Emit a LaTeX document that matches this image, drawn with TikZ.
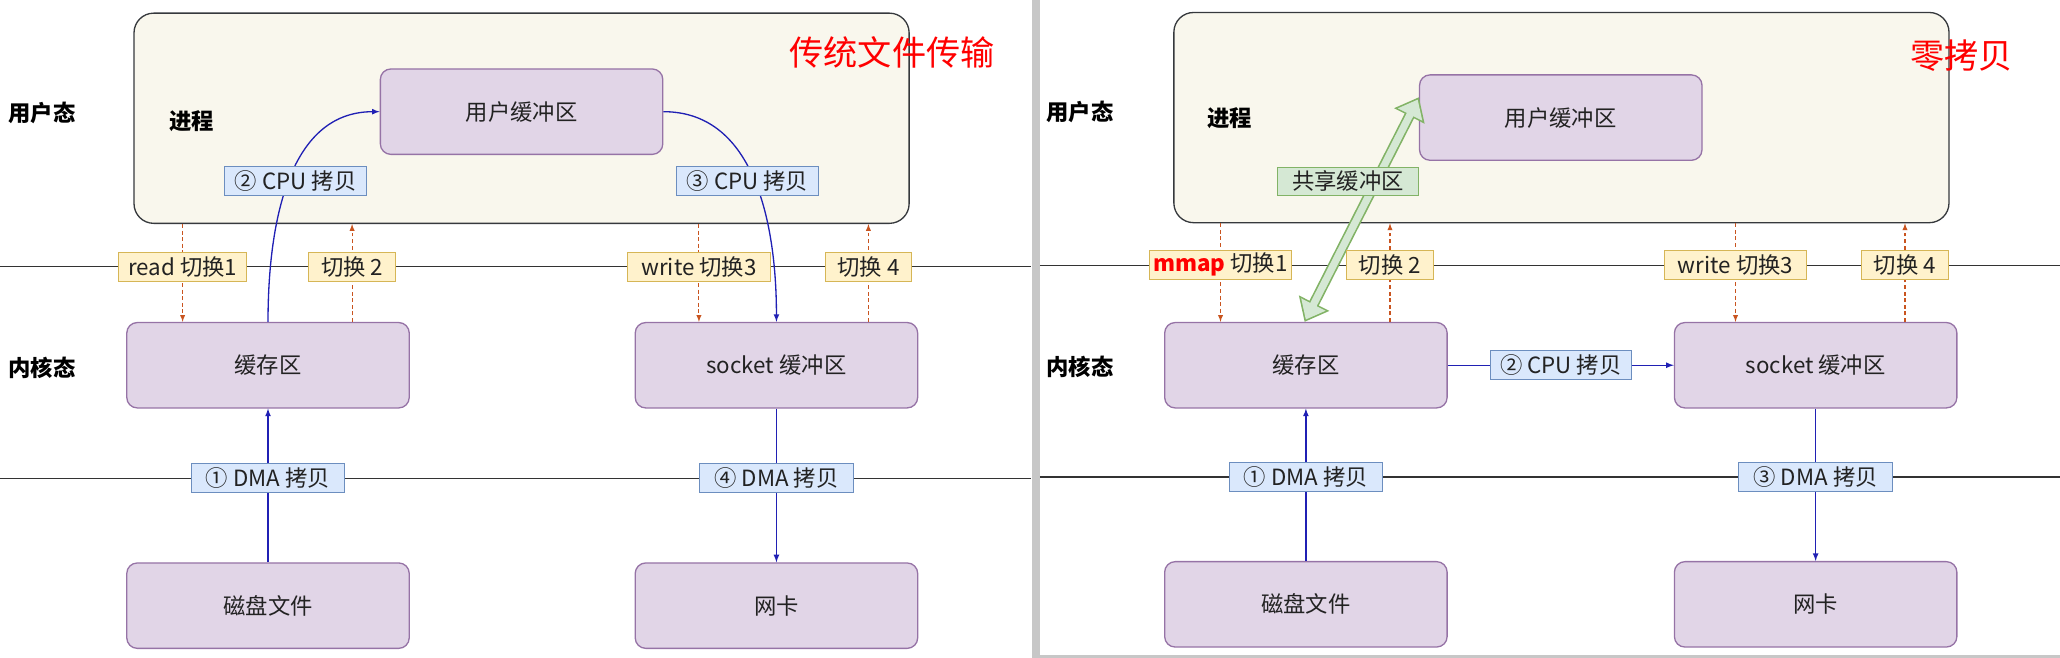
\documentclass[tikz,border=0pt]{standalone}
\usepackage{fontspec}
\setmainfont{Noto Sans CJK SC}
\usepackage{tikz}
\usetikzlibrary{arrows,arrows.meta,calc}
\definecolor{procbg}{HTML}{F9F7ED}
\definecolor{procline}{HTML}{36393D}
\definecolor{bufbg}{HTML}{E1D5E7}
\definecolor{bufline}{HTML}{9673A6}
\definecolor{cpybg}{HTML}{DAE8FC}
\definecolor{cpyline}{HTML}{6C8EBF}
\definecolor{swbg}{HTML}{FFF2CC}
\definecolor{swline}{HTML}{D6B656}
\definecolor{gbg}{HTML}{D5E8D4}
\definecolor{gline}{HTML}{82B366}
\definecolor{swred}{HTML}{C9541F}
\definecolor{flowblue}{HTML}{2020B4}
\definecolor{txt}{HTML}{222222}

\begin{document}
\begin{tikzpicture}[>=latex, x=1pt, y=-1pt,
	font=\fontsize{17}{20}\selectfont,
	proc/.style={draw=procline, fill=procbg, rounded corners=15pt, line width=1pt, minimum width=590pt, minimum height=160pt},
	buf/.style={draw=bufline, fill=bufbg, rounded corners=8pt, line width=1pt, minimum width=215pt, minimum height=65pt, text=txt},
	cpy/.style={draw=cpyline, fill=cpybg, solid, line width=0.8pt, inner sep=1pt, minimum height=22pt, text=txt},
	sw/.style={draw=swline, fill=swbg, solid, line width=0.8pt, inner sep=1pt, minimum height=22pt, text=txt},
	side/.style={font=\fontsize{17}{20}\selectfont\bfseries},
	ttl/.style={text=red, font=\fontsize{26}{30}\selectfont},
	sep/.style={draw=black!80, line width=1pt},
	flow/.style={->, draw=flowblue, line width=1pt},
	swarrow/.style={->, densely dashed, draw=swred, line width=0.8pt}]
	\useasboundingbox (0,0) rectangle (1568,500.8);
	\fill[black!22] (785.5,0) rectangle (791.5,500.8);
	\fill[black!22] (785.5,498.5) rectangle (1568,500.8);

	% traditional
	\node[proc] (proc) at (397,90) {};
	\node[side] (user) at (32,86) {用户态};
	\node[side] (kernel) at (32,280) {内核态};
	\node[side] (pname) at (146,92) {进程};
	\node[ttl] (title) at (679,40) {传统文件传输};
	\node[buf] (ubuf) at (397,85) {用户缓冲区};
	\node[buf] (cache) at (204,278) {缓存区};
	\node[buf] (sock) at (591,278) {socket 缓冲区};
	\node[buf] (disk) at (204,461) {磁盘文件};
	\node[buf] (nic) at (591,461) {网卡};
	\draw[sep] (0,203) -- (784.5,203);
	\draw[sep] (0,364) -- (784.5,364);
	\draw[flow] (cache.north) to[out=90,in=180] (ubuf.west);
	\draw[flow] (ubuf.east) to[out=0,in=90] (sock.north);
	\node[cpy, minimum width=108pt] (cpu2) at (225,138) {② CPU 拷贝};
	\node[cpy, minimum width=108pt] (cpu3) at (569,138) {③ CPU 拷贝};
	\draw[flow] (disk.north) -- node[cpy, pos=.55, minimum width=117pt] (dma1) {① DMA 拷贝} (cache.south);
	\draw[flow] (sock.south) -- node[cpy, pos=.45, minimum width=117pt] (dma4) {④ DMA 拷贝} (nic.north);
	\draw[swarrow] (proc.south -| 139,0) -- node[sw, pos=.44, minimum width=97pt] (sw1) {read 切换1} (cache.north -| 139,0);
	\draw[swarrow] (cache.north -| 268,0) -- node[sw, pos=.56, minimum width=66pt] (sw2) {切换 2} (proc.south -| 268,0);
	\draw[swarrow] (proc.south -| 532,0) -- node[sw, pos=.44, minimum width=109pt] (sw3) {write 切换3} (sock.north -| 532,0);
	\draw[swarrow] (sock.north -| 661,0) -- node[sw, pos=.56, minimum width=66pt] (sw4) {切换 4} (proc.south -| 661,0);

	% zero copy
	\node[proc] (proc2) at (1188.5,89.5) {};
	\node[side] (user2) at (822,85) {用户态};
	\node[side] (kernel2) at (822,279) {内核态};
	\node[side] (pname2) at (936,90) {进程};
	\node[ttl] (title2) at (1493,42) {零拷贝};
	\node[buf] (ubuf2) at (1188,89.5) {用户缓冲区};
	\node[buf] (cache2) at (994,278) {缓存区};
	\node[buf] (sock2) at (1382,278) {socket 缓冲区};
	\node[buf] (disk2) at (994,460) {磁盘文件};
	\node[buf] (nic2) at (1382,460) {网卡};
	\draw[sep] (791.5,202) -- (1568,202);
	\draw[sep] (791.5,363) -- (1568,363);
	\draw[line width=8pt, draw=gline, {Triangle[length=16pt,width=25pt]}-{Triangle[length=16pt,width=25pt]}] (cache2.north -| 993,0) -- (ubuf2.west |- 0,74);
	\draw[line width=5.5pt, draw=gbg, shorten <=2pt, shorten >=2pt, {Triangle[length=12.8pt,width=20pt]}-{Triangle[length=12.8pt,width=20pt]}] (cache2.north -| 993,0) -- (ubuf2.west |- 0,74);
	\node[draw=gline, fill=gbg, line width=0.8pt, inner sep=1pt, minimum height=21pt, minimum width=107pt, text=txt] (shared) at (1026,138) {共享缓冲区};
	\draw[flow] (cache2.east) -- node[cpy, minimum width=107pt] (cpu2b) {② CPU 拷贝} (sock2.west);
	\draw[flow] (disk2.north) -- node[cpy, pos=.55, minimum width=117pt] (dma1b) {① DMA 拷贝} (cache2.south);
	\draw[flow] (sock2.south) -- node[cpy, pos=.45, minimum width=117pt] (dma3b) {③ DMA 拷贝} (nic2.north);
	\draw[swarrow] (proc2.south -| 929,0) -- node[sw, pos=.42, minimum width=108pt] (sw1b) {\textcolor{red}{\bfseries mmap} 切换1} (cache2.north -| 929,0);
	\draw[swarrow] (cache2.north -| 1058,0) -- node[sw, pos=.58, minimum width=66pt] (sw2b) {切换 2} (proc2.south -| 1058,0);
	\draw[swarrow] (proc2.south -| 1321,0) -- node[sw, pos=.42, minimum width=108pt] (sw3b) {write 切换3} (sock2.north -| 1321,0);
	\draw[swarrow] (sock2.north -| 1450,0) -- node[sw, pos=.58, minimum width=66pt] (sw4b) {切换 4} (proc2.south -| 1450,0);
\end{tikzpicture}
\end{document}
